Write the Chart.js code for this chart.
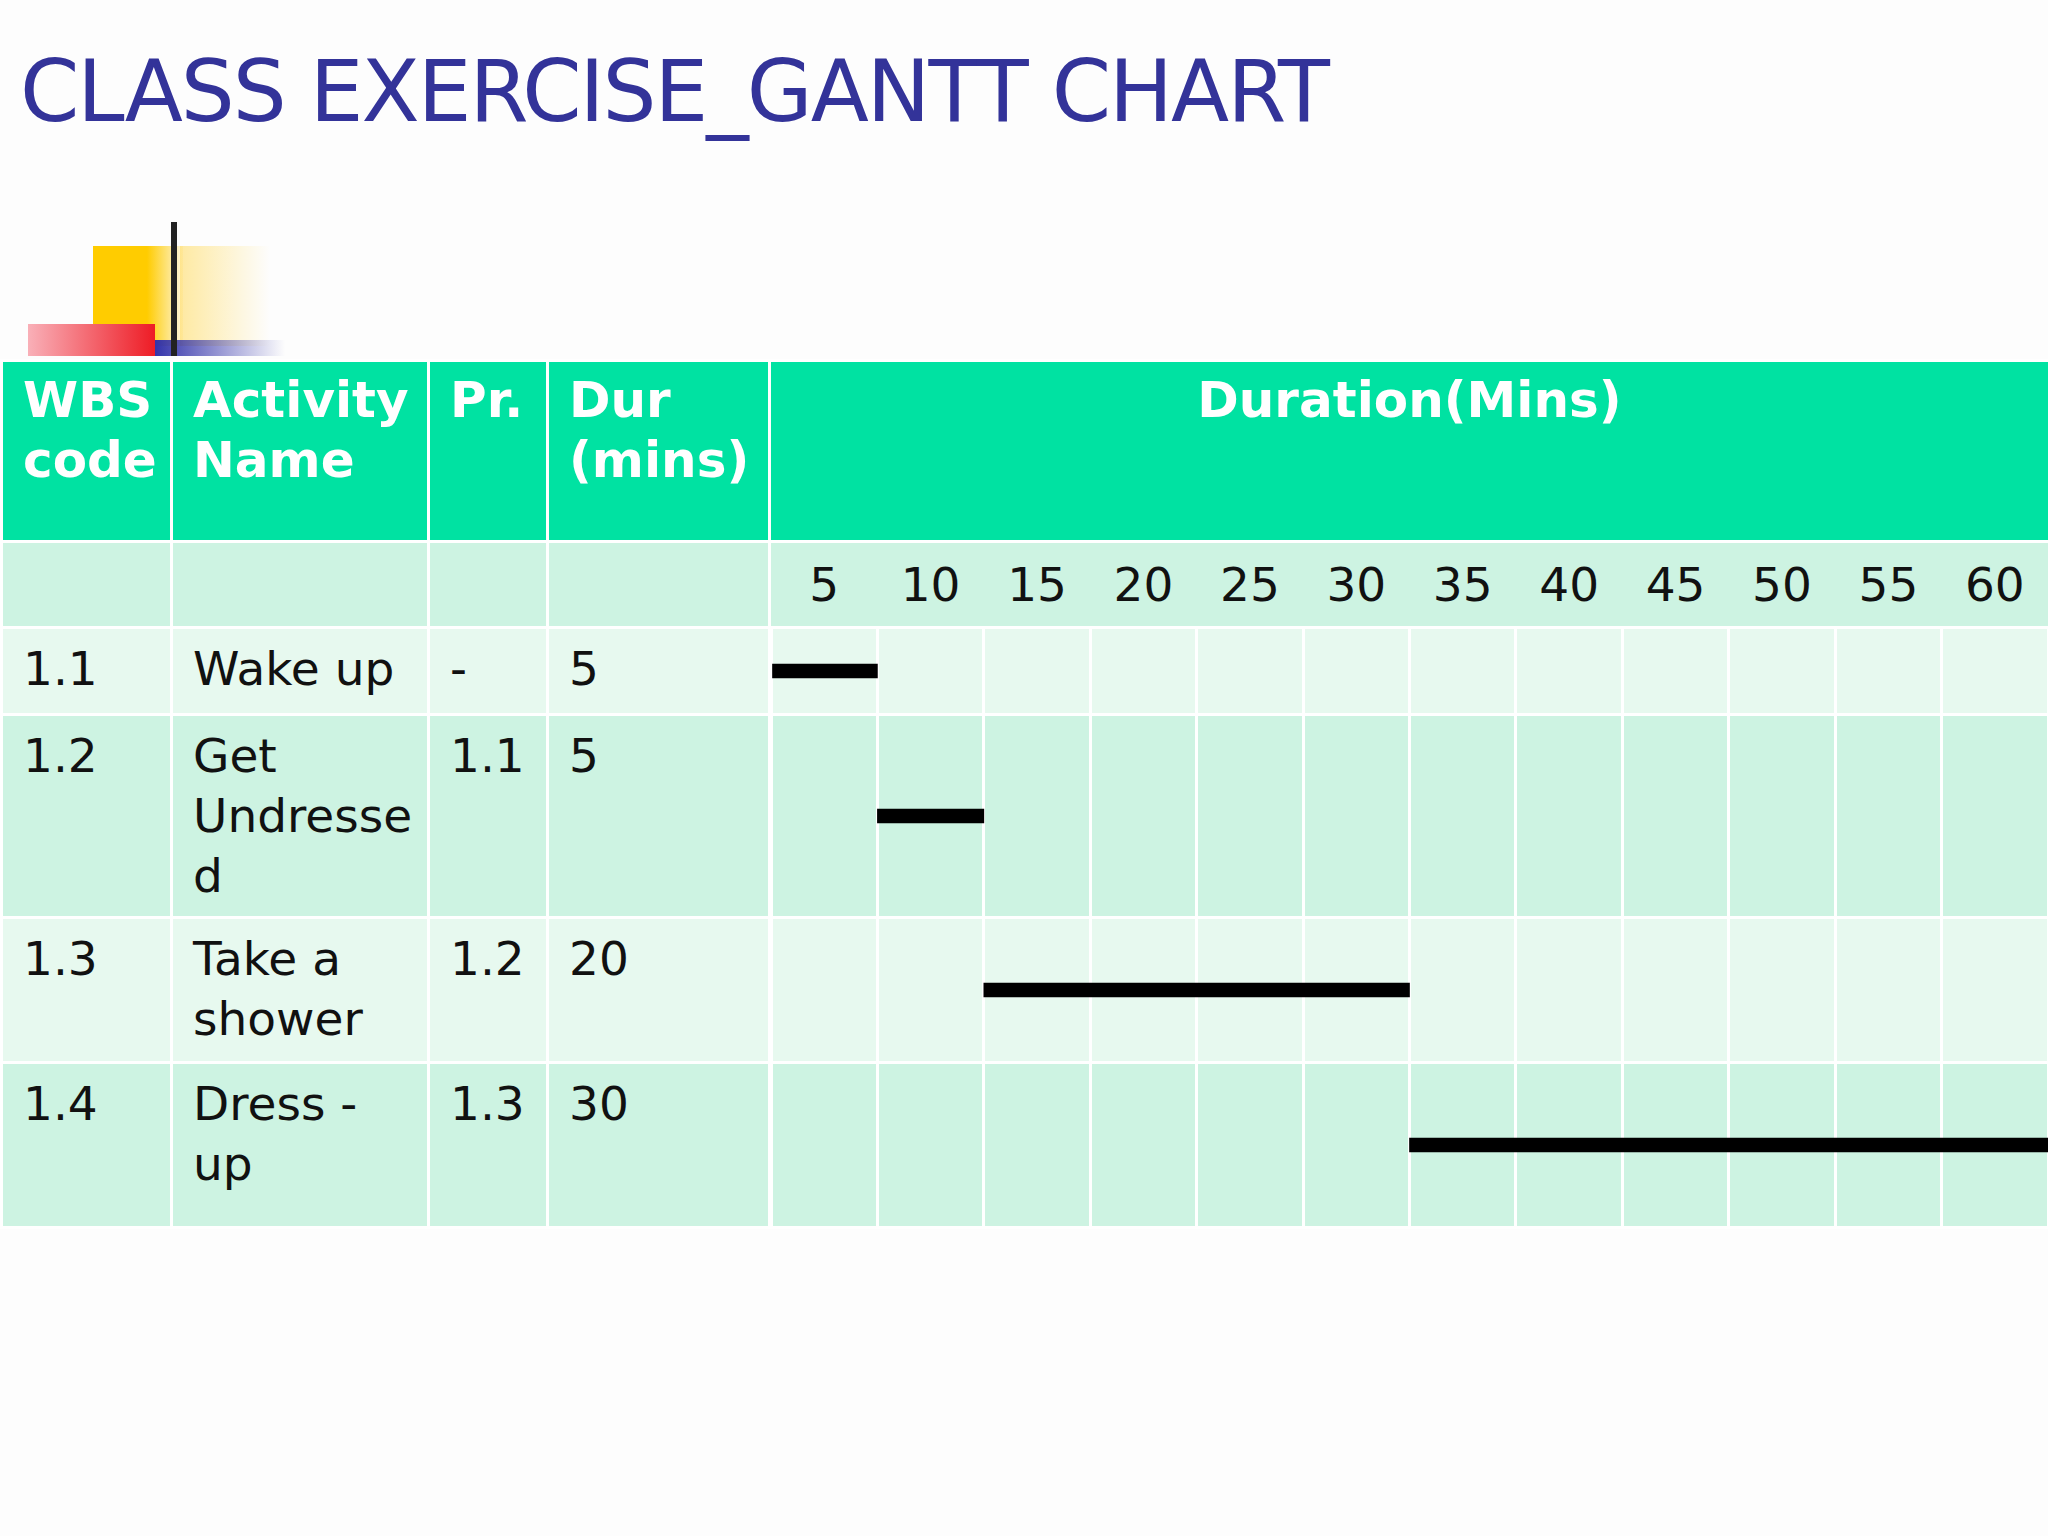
<!DOCTYPE html>
<html><head><meta charset="utf-8">
<script src="https://cdn.jsdelivr.net/npm/chart.js@4/dist/chart.umd.min.js"></script>
<style>
body{margin:0;width:2048px;height:1536px;background:#fdfdfd;font-family:"DejaVu Sans",Verdana,sans-serif;position:relative;overflow:hidden}
#title{position:absolute;left:20px;top:42px;font-size:85px;color:#333399;letter-spacing:-2px}
#logo div{position:absolute}
table{position:absolute;left:0;top:359px;width:2048px;border-collapse:collapse;table-layout:fixed}
td{border:3px solid #fff;padding:0 0 0 20px;vertical-align:top;font-size:47px;color:#111;line-height:60px;overflow:hidden}
tr.h td{background:#00E2A2;color:#fff;font-weight:bold;font-size:50px;height:170px;padding-top:8px}
tr.a td{background:#E7F9EF}
tr.b td{background:#CDF3E2}
td.g{padding:0;position:relative}
.ticks{display:flex;height:100%}
.ticks span{flex:1;text-align:center;padding-top:12px}
</style></head><body>
<div id="title">CLASS EXERCISE_GANTT CHART</div>
<div id="logo">
<div style="left:93px;top:246px;width:90px;height:100px;background:linear-gradient(90deg,#FFCC00 60%,rgba(255,230,150,0.3) 100%)"></div>
<div style="left:180px;top:246px;width:90px;height:100px;background:linear-gradient(90deg,rgba(255,220,100,0.6),rgba(255,255,255,0))"></div>
<div style="left:28px;top:324px;width:127px;height:32px;background:linear-gradient(90deg,#f9b0b8,#ee1c25)"></div>
<div style="left:155px;top:340px;width:130px;height:16px;background:linear-gradient(90deg,#3333aa,rgba(51,51,170,0))"></div>
<div style="left:171px;top:222px;width:6px;height:134px;background:#222"></div>
</div>
<table id="tbl"></table>
<script>
const wbs=["1.1","1.2","1.3","1.4"];
const activities=["Wake up","Get Undresse d","Take a shower","Dress - up"];
const activityLines=[["Wake up"],["Get","Undresse","d"],["Take a","shower"],["Dress -","up"]];
const predecessors=["-","1.1","1.2","1.3"];
const durations=[5,5,20,30];
const starts=[0,5,10,30];
const ticks=["5","10","15","20","25","30","35","40","45","50","55","60"];
const rowHeights=[74,190,132,152];

const tbl=document.getElementById('tbl');
let html='<colgroup><col style="width:170px"><col style="width:257px"><col style="width:119px"><col style="width:222px"><col style="width:1280px"></colgroup>';
html+='<tr class="h"><td>WBS<br>code</td><td>Activity<br>Name</td><td>Pr.</td><td>Dur<br>(mins)</td><td style="text-align:center;padding-left:0">Duration(Mins)</td></tr>';
html+='<tr class="b"><td style="height:83px"></td><td></td><td></td><td></td><td class="g"><div class="ticks">'+ticks.map(t=>'<span>'+t+'</span>').join('')+'</div></td></tr>';
wbs.forEach((w,i)=>{
  html+=`<tr class="${i%2?'b':'a'}"><td style="height:${rowHeights[i]}px;padding-top:10px">${w}</td><td style="padding-top:10px">${activityLines[i].join('<br>')}</td><td style="padding-top:10px">${predecessors[i]}</td><td style="padding-top:10px">${durations[i]}</td><td class="g"><div style="position:absolute;inset:0"><canvas id="c${i}"></canvas></div></td></tr>`;
});
tbl.innerHTML=html;
wbs.forEach((w,i)=>{
  new Chart(document.getElementById('c'+i),{
    type:'bar',
    data:{labels:[activities[i]],datasets:[{data:[[starts[i],starts[i]+durations[i]]],backgroundColor:'#000',barThickness:14,borderSkipped:false}]},
    options:{indexAxis:'y',responsive:true,maintainAspectRatio:false,animation:false,
      layout:{padding:0},
      plugins:{legend:{display:false},tooltip:{enabled:false}},
      scales:{x:{min:0,max:60,ticks:{stepSize:5,display:false},grid:{color:'#fff',lineWidth:3,drawTicks:false},border:{display:false}},
              y:{display:false}}}
  });
});
</script>
</body></html>
